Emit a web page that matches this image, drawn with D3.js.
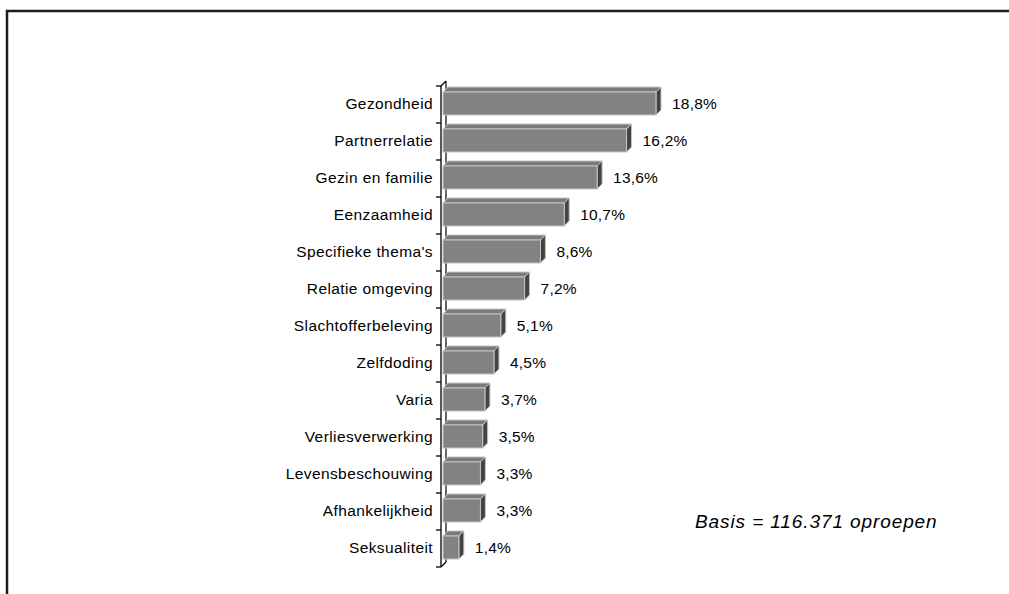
<!DOCTYPE html>
<html>
<head>
<meta charset="utf-8">
<script src="https://cdn.jsdelivr.net/npm/d3@7"></script>
<style>
  body { margin: 0; background: #fff; overflow: hidden; }
  svg { display: block; }
</style>
</head>
<body>
<script>
// Chart data
const categories = ["Gezondheid", "Partnerrelatie", "Gezin en familie", "Eenzaamheid",
    "Specifieke thema's", "Relatie omgeving", "Slachtofferbeleving", "Zelfdoding",
    "Varia", "Verliesverwerking", "Levensbeschouwing", "Afhankelijkheid", "Seksualiteit"];
const values = [18.8, 16.2, 13.6, 10.7, 8.6, 7.2, 5.1, 4.5, 3.7, 3.5, 3.3, 3.3, 1.4];
const note = "Basis = 116.371 oproepen";

const W = 1009, H = 594;
const depth = 5; // 3D offset of the bars

const svg = d3.select("body")
    .append("svg")
    .attr("width", W)
    .attr("height", H);

// Outer frame: only top and left edges are visible
svg.append("path")
    .attr("d", `M7,${H}L7,11L${W},11`)
    .attr("fill", "none")
    .attr("stroke", "#1c1c1c")
    .attr("stroke-width", 2.5);

// Scales
const x = d3.scaleLinear().domain([0, 20]).range([443, 669.6]);
const y = d3.scaleBand().domain(categories).range([86, 567]).padding(0);

const barTop = 6, barH = 23;
const data = categories.map((c, i) => ({ cat: c, value: values[i] }));

// Back wall line (visible between bars)
svg.append("line")
    .attr("x1", x(0) + 3).attr("x2", x(0) + 3)
    .attr("y1", 86 - depth).attr("y2", 567 - depth)
    .attr("stroke", "#000").attr("stroke-width", 1.2);

// Bars
const bars = svg.append("g").selectAll("g")
    .data(data)
    .enter().append("g");

bars.append("path") // top face
    .attr("d", d => {
        const x0 = x(0), x1 = x(d.value), yy = y(d.cat) + barTop;
        return `M${x0},${yy}L${x0 + depth},${yy - depth}L${x1 + depth},${yy - depth}L${x1},${yy}Z`;
    })
    .attr("fill", "#7a7a7a")
    .attr("stroke", "#c4c4c4")
    .attr("stroke-width", 1);

bars.append("path") // side face
    .attr("d", d => {
        const x1 = x(d.value), yy = y(d.cat) + barTop;
        return `M${x1},${yy}L${x1 + depth},${yy - depth}L${x1 + depth},${yy + barH - depth}L${x1},${yy + barH}Z`;
    })
    .attr("fill", "#434343")
    .attr("stroke", "#c4c4c4")
    .attr("stroke-width", 1);

bars.append("rect") // front face
    .attr("x", x(0))
    .attr("y", d => y(d.cat) + barTop)
    .attr("width", d => x(d.value) - x(0))
    .attr("height", barH)
    .attr("fill", "#828282")
    .attr("stroke", "#c4c4c4")
    .attr("stroke-width", 1);

// Axis with ticks at category boundaries
const axisX = 441;
const axis = svg.append("g").attr("stroke", "#000").attr("stroke-width", 1.3);
axis.append("line")
    .attr("x1", axisX).attr("x2", axisX)
    .attr("y1", 86).attr("y2", 567);
const bounds = categories.map(c => y(c)).concat([567]);
axis.selectAll(".tick")
    .data(bounds)
    .enter().append("line")
    .attr("x1", axisX - 5).attr("x2", axisX)
    .attr("y1", d => d).attr("y2", d => d);
[86, 567].forEach(v => {
    axis.append("line")
        .attr("x1", axisX).attr("x2", axisX + depth)
        .attr("y1", v).attr("y2", v - depth);
});

// Category labels
svg.append("g").selectAll("text")
    .data(data)
    .enter().append("text")
    .attr("x", 433)
    .attr("y", d => y(d.cat) + barTop + barH / 2)
    .attr("dy", "0.35em")
    .attr("text-anchor", "end")
    .style("font-family", "'Liberation Sans', Arial, sans-serif")
    .style("font-size", "15.5px")
    .style("letter-spacing", "0.4px")
    .style("fill", "#000")
    .text(d => d.cat);

// Value labels
svg.append("g").selectAll("text")
    .data(data)
    .enter().append("text")
    .attr("x", d => x(d.value) + depth + 11)
    .attr("y", d => y(d.cat) + barTop + barH / 2)
    .attr("dy", "0.35em")
    .style("font-family", "'Liberation Sans', Arial, sans-serif")
    .style("font-size", "15.5px")
    .style("letter-spacing", "0.2px")
    .style("fill", "#000")
    .text(d => d3.format(".1f")(d.value).replace(".", ",") + "%");

// Note
svg.append("text")
    .attr("x", 695)
    .attr("y", 528)
    .style("font-family", "'Liberation Sans', Arial, sans-serif")
    .style("font-style", "italic")
    .style("font-size", "19px")
    .style("letter-spacing", "0.9px")
    .style("fill", "#000")
    .text(note);
</script>
</body>
</html>
